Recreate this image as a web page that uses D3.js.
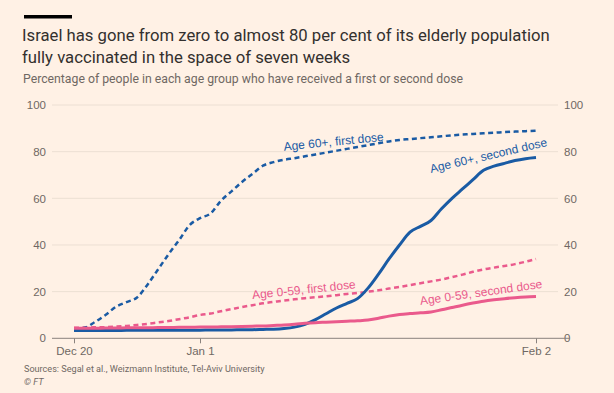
<!DOCTYPE html>
<html>
<head>
<meta charset="utf-8">
<script src="https://cdn.jsdelivr.net/npm/d3@7"></script>
<style>
  body { margin: 0; background: #fff1e5; }
  svg { display: block; }
</style>
</head>
<body>
<svg id="chart"></svg>
<script>
const width = 614;
const height = 393;
const svg = d3.select('#chart').attr('width', width).attr('height', height);

const blue = '#1a5ba4';
const pink = '#ea5a8c';
const muted = '#6f6863';

// days since Dec 20 2020, one value per day up to Feb 2 2021
const start = new Date(2020, 11, 20);
const first60 = [4, 4.5, 7, 10, 13.5, 15.5, 17.5, 23, 29.5, 36, 42, 48.5, 51.5, 53.5, 59, 63, 67, 70.5, 74, 75.5,
  76.5, 77.2, 78, 78.8, 79.6, 80.4, 81.2, 82, 82.8, 83.6, 84.4, 85, 85.4, 85.8, 86.2, 86.6, 87, 87.3, 87.6, 87.9,
  88.1, 88.4, 88.6, 88.8, 89];
const second60 = [3.3, 3.3, 3.3, 3.3, 3.3, 3.4, 3.4, 3.4, 3.4, 3.5, 3.5, 3.5, 3.5, 3.6, 3.6, 3.6, 3.7, 3.7, 3.8, 3.9,
  4.2, 4.8, 6, 8, 10.5, 13, 15, 17, 21.5, 27.5, 34, 40, 45.5, 48, 50.5, 55.5, 60, 64, 68, 72,
  73.8, 75, 76.2, 77, 77.5];
const first059 = [4.5, 4.6, 4.7, 4.8, 5, 5.3, 5.7, 6.2, 6.8, 7.4, 8.2, 9, 10, 10.6, 11.6, 12.5, 13.4, 14.2, 15, 15.6,
  16.2, 16.7, 17.2, 17.6, 18, 18.5, 19, 19.4, 20, 20.6, 21.3, 22, 22.8, 23.6, 24.4, 25.2, 26.2, 27.3, 28.5, 29.5,
  30.3, 31, 31.8, 32.8, 34];
const second059 = [4.3, 4.3, 4.3, 4.4, 4.4, 4.5, 4.5, 4.5, 4.6, 4.6, 4.7, 4.7, 4.8, 4.8, 4.9, 5, 5.1, 5.2, 5.3, 5.5,
  5.7, 6, 6.4, 6.7, 6.9, 7.1, 7.3, 7.5, 7.8, 8.6, 9.5, 10.2, 10.6, 10.9, 11.3, 12.2, 13.2, 14.2, 15.1, 15.9,
  16.5, 17, 17.4, 17.7, 17.9];

const yTicks = [0, 20, 40, 60, 80, 100];
const xTicks = [new Date(2020, 11, 20), new Date(2021, 0, 1), new Date(2021, 1, 2)];
const xTickLabels = ['Dec 20', 'Jan 1', 'Feb 2'];

// line labels: text, day offset, value, angle
const labelText = ['Age 60+, first dose', 'Age 60+, second dose', 'Age 0-59, first dose', 'Age 0-59, second dose'];
const labelDay = [20.8, 34.5, 17, 33.8];
const labelValue = [80.4, 70.9, 16.8, 14.3];
const labelAngle = [-5.7, -13, -6, -8];
const labelColor = [blue, blue, pink, pink];

const day = i => d3.timeDay.offset(start, i);

const x = d3.scaleTime().domain([start, new Date(2021, 1, 2)]).range([74, 536]);
const y = d3.scaleLinear().domain([0, 100]).range([338.3, 105]);

// header
svg.append('rect').attr('width', width).attr('height', height).attr('fill', '#fff1e5');
svg.append('rect').attr('x', 24).attr('y', 15).attr('width', 48).attr('height', 3.5).attr('fill', '#000');

const title = svg.append('text')
  .attr('x', 22).attr('y', 41)
  .style('font-family', '"Liberation Sans Narrow", "Roboto", sans-serif')
  .style('font-size', '16.7px')
  .attr('fill', '#33302e');
title.append('tspan').attr('x', 22).text('Israel has gone from zero to almost 80 per cent of its elderly population');
title.append('tspan').attr('x', 22).attr('dy', 22).text('fully vaccinated in the space of seven weeks');

svg.append('text')
  .attr('x', 23).attr('y', 83)
  .style('font-family', '"Liberation Sans Narrow", "Roboto", sans-serif')
  .style('font-size', '12.25px')
  .attr('fill', muted)
  .text('Percentage of people in each age group who have received a first or second dose');

// gridlines
svg.append('g').selectAll('line')
  .data(yTicks.filter(d => d > 0))
  .join('line')
  .attr('x1', 52).attr('x2', 558)
  .attr('y1', d => y(d)).attr('y2', d => y(d))
  .attr('stroke', '#ecdfd3').attr('stroke-width', 1);

// y labels both sides
const yAxisL = svg.append('g').attr('transform', 'translate(52,0)')
  .call(d3.axisLeft(y).tickValues(yTicks).tickSize(0).tickPadding(6));
const yAxisR = svg.append('g').attr('transform', 'translate(558,0)')
  .call(d3.axisRight(y).tickValues(yTicks).tickSize(0).tickPadding(6));
[yAxisL, yAxisR].forEach(g => {
  g.select('.domain').remove();
  g.selectAll('text')
    .style('font-family', '"Liberation Sans", sans-serif')
    .style('font-size', '11.5px')
    .attr('fill', muted);
});

// x axis
const xAxis = svg.append('g').attr('transform', `translate(0,${y(0)})`)
  .call(d3.axisBottom(x).tickValues(xTicks).tickFormat((d, i) => xTickLabels[i]).tickSize(5).tickPadding(4));
xAxis.select('.domain').remove();
xAxis.selectAll('line').attr('stroke', '#8a837e');
xAxis.selectAll('text')
  .style('font-family', '"Liberation Sans", sans-serif')
  .style('font-size', '11.5px')
  .attr('fill', muted);
svg.append('line')
  .attr('x1', 52).attr('x2', 570)
  .attr('y1', y(0)).attr('y2', y(0))
  .attr('stroke', '#8a837e').attr('stroke-width', 1);

// lines
const line = d3.line()
  .x((d, i) => x(day(i)))
  .y(d => y(d))
  .curve(d3.curveMonotoneX);

const series = [
  { values: first059, color: pink, dash: '5,3.5', w: 2.5 },
  { values: first60, color: blue, dash: '5,3.5', w: 2.5 },
  { values: second60, color: blue, dash: null, w: 3 },
  { values: second059, color: pink, dash: null, w: 3 }
];

svg.append('g').selectAll('path')
  .data(series)
  .join('path')
  .attr('d', d => line(d.values))
  .attr('fill', 'none')
  .attr('stroke', d => d.color)
  .attr('stroke-width', d => d.w)
  .attr('stroke-dasharray', d => d.dash)
  .attr('stroke-linejoin', 'round');

// line labels
svg.append('g').selectAll('text')
  .data(labelText)
  .join('text')
  .attr('transform', (d, i) => `translate(${x(day(labelDay[i]))},${y(labelValue[i])}) rotate(${labelAngle[i]})`)
  .style('font-family', '"Liberation Sans", sans-serif')
  .style('font-size', '12px')
  .attr('fill', (d, i) => labelColor[i])
  .text(d => d);

// footer
svg.append('text')
  .attr('x', 24).attr('y', 372)
  .style('font-family', '"Liberation Sans Narrow", "Roboto", sans-serif')
  .style('font-size', '9.1px')
  .attr('fill', muted)
  .text('Sources: Segal et al., Weizmann Institute, Tel-Aviv University');
svg.append('text')
  .attr('x', 24).attr('y', 385)
  .style('font-family', '"Liberation Sans Narrow", "Roboto", sans-serif')
  .style('font-size', '9.1px')
  .style('font-style', 'italic')
  .attr('fill', muted)
  .text('© FT');
</script>
</body>
</html>
